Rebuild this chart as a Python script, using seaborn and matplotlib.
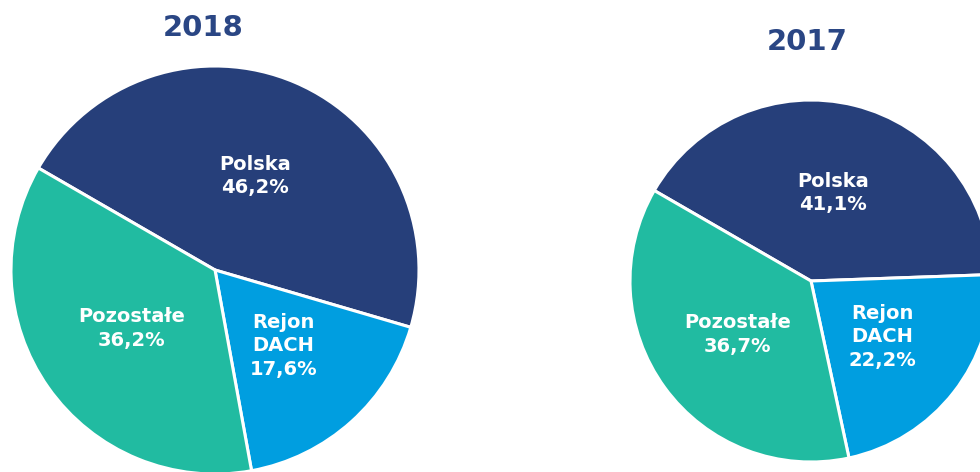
"""Two pie charts: revenue split by region, 2018 vs 2017"""
import matplotlib
import seaborn as sns
from matplotlib import pyplot as plt

sns.set_theme(style="white")
matplotlib.rcParams.update({"font.family": ["DejaVu Sans"], "font.weight": "bold"})

# data
years = ["2018", "2017"]
regions = ["Polska", "Rejon\nDACH", "Pozostałe"]
share_2018 = [46.2, 17.6, 36.2]
share_2017 = [41.1, 22.2, 36.7]

colors = ["#263F7A", "#009EE0", "#21BBA1"]
title_color = "#2A4684"

# layout in pixel units (figure is 980 x 472)
W, H = 980, 472
pies = [
    dict(values=share_2018, center=(215, H - 270), radius=204, title_xy=(203, H - 28)),
    dict(values=share_2017, center=(811, H - 281), radius=181, title_xy=(807, H - 42)),
]

fig = plt.figure(figsize=(W / 100, H / 100), dpi=100)
ax = fig.add_axes([0, 0, 1, 1])

for year, p in zip(years, pies):
    labels = [
        f"{name}\n{val:.1f}%".replace(".", ",") for name, val in zip(regions, p["values"])
    ]
    wedges, texts = ax.pie(
        p["values"],
        labels=labels,
        colors=colors,
        startangle=150,
        counterclock=False,
        center=p["center"],
        radius=p["radius"],
        labeldistance=0.5,
        frame=True,
        wedgeprops=dict(edgecolor="white", linewidth=2.2),
        textprops=dict(color="white", fontsize=14, fontweight="bold", linespacing=1.3),
    )
    for t in texts:
        t.set_ha("center")
        t.set_va("center")
    ax.text(*p["title_xy"], year, ha="center", va="center",
            fontsize=21, fontweight="bold", color=title_color)

ax.set_xlim(0, W)
ax.set_ylim(0, H)
ax.set_aspect("equal")
ax.axis("off")

fig.savefig("out.png", dpi=100)
